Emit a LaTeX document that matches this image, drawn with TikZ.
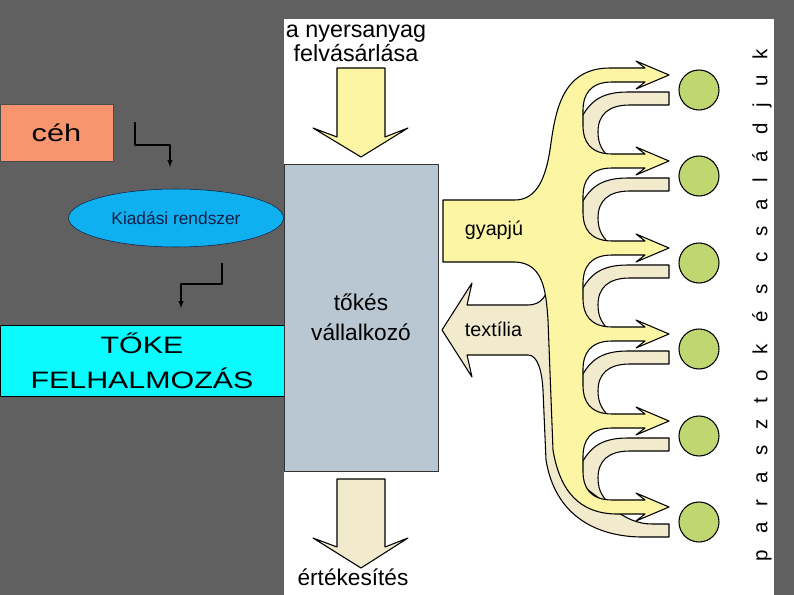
\documentclass[tikz,border=0pt]{standalone}
\usepackage{fontspec}
\setmainfont{Liberation Sans}
\newfontfamily\widesans[FakeStretch=1.28]{Liberation Sans}
\usetikzlibrary{shapes.geometric,arrows}
\definecolor{slidegray}{RGB}{96,96,96}
\definecolor{guildcol}{RGB}{247,150,110}
\definecolor{skycol}{RGB}{14,176,240}
\definecolor{navycol}{RGB}{20,30,70}
\definecolor{tokecol}{RGB}{10,250,255}
\definecolor{boxcol}{RGB}{185,199,210}
\definecolor{woolcol}{RGB}{252,246,164}
\definecolor{clothcol}{RGB}{242,234,205}
\definecolor{famcol}{RGB}{192,214,112}

\begin{document}
\begin{tikzpicture}[x=0.75pt, y=-0.75pt, line join=round,
    wool/.style={fill=woolcol, draw=black, line width=0.8pt},
    cloth/.style={fill=clothcol, draw=black, line width=0.8pt},
    family/.style={circle, draw=black, fill=famcol, line width=0.8pt, minimum size=30pt, inner sep=0pt},
    conn/.style={->, >=latex, line width=0.8pt}]
\useasboundingbox (0,0) rectangle (794,595);
\fill[slidegray] (0,0) rectangle (794,595);
\fill[white] (284,19) rectangle (774,595);

% left column
\node[draw=black!70, fill=guildcol, minimum width=84.75pt, minimum height=42.75pt, inner sep=0pt, font=\widesans\fontsize{18}{20}\selectfont] (ceh) at (56.5,132.5) {céh};
\node[ellipse, draw=navycol, fill=skycol, minimum width=161.25pt, minimum height=43.5pt, inner sep=0pt, text=navycol, font=\fontsize{13}{15}\selectfont] (kiadasi) at (176,218) {Kiadási rendszer};
\node[draw=black, fill=tokecol, minimum width=213pt, minimum height=53.25pt, inner sep=0pt, align=center, font=\widesans\fontsize{17.8}{26.25}\selectfont] (toke) at (142,360.5) {TŐKE\\FELHALMOZÁS};
\coordinate (k1) at (135,122);
\coordinate (k2) at (170,145);
\coordinate (k3) at (170,167);
\coordinate (k4) at (222,263);
\coordinate (k5) at (181,284);
\coordinate (k6) at (181,308);
\draw[conn] (k1) |- (k2) -- (k3);
\draw[conn] (k4) |- (k5) -- (k6);

% entrepreneur
\node[draw=black!80, fill=boxcol, minimum width=115.5pt, minimum height=230.25pt, inner sep=0pt, align=center, font=\fontsize{17}{22.5}\selectfont] (vallalkozo) at (361,317.5) {tőkés\\vállalkozó};
\node[align=center, inner sep=0pt, font=\fontsize{17.5}{17.5}\selectfont] (nyersanyag) at (356,43.5) {a nyersanyag\\felvásárlása};
\node[inner sep=0pt, font=\fontsize{17}{20}\selectfont] (ertekesites) at (353,577) {értékesítés};
\draw[wool] (337,68) -- (385,68) -- (385,137) -- (408,128) -- (361,157) -- (313,128) -- (337,137) -- cycle;
\draw[cloth] (337,479) -- (385,479) -- (385,547) -- (408,538) -- (361,568) -- (313,538) -- (337,547) -- cycle;

% textile flows back
\draw[cloth] (669,92) -- (628,92) .. controls (600,92) and (588,102) .. (578,125) -- (575,160) -- (612,160) .. controls (603,152) and (598,145) .. (598,132) .. controls (598,115) and (608,105) .. (630,105) -- (669,105) -- cycle;
\draw[cloth] (669,178) -- (628,178) .. controls (600,178) and (588,188) .. (578,211) -- (575,246) -- (612,246) .. controls (603,238) and (598,231) .. (598,218) .. controls (598,201) and (608,191) .. (630,191) -- (669,191) -- cycle;
\draw[cloth] (669,265) -- (628,265) .. controls (600,265) and (588,275) .. (578,298) -- (575,333) -- (612,333) .. controls (603,325) and (598,318) .. (598,305) .. controls (598,288) and (608,278) .. (630,278) -- (669,278) -- cycle;
\draw[cloth] (669,351) -- (628,351) .. controls (600,351) and (588,361) .. (578,384) -- (575,419) -- (612,419) .. controls (603,411) and (598,404) .. (598,391) .. controls (598,374) and (608,364) .. (630,364) -- (669,364) -- cycle;
\draw[cloth] (669,438) -- (628,438) .. controls (600,438) and (588,448) .. (578,471) -- (575,506) -- (612,506) .. controls (603,498) and (598,491) .. (598,478) .. controls (598,461) and (608,451) .. (630,451) -- (669,451) -- cycle;
\draw[cloth] (442,330) -- (472,283) -- (467,305) -- (528,305) .. controls (541,305) and (548,296) .. (549,280) -- (575,280) -- (575,480) -- (612,508) .. controls (625,518) and (637,524) .. (652,524) -- (669,524) -- (669,537) -- (640,537) .. controls (595,536) and (555,515) .. (546,460) -- (543,390) .. controls (542,372) and (538,355) .. (528,355) -- (467,355) -- (472,377) -- cycle;

% wool flows out
\draw[wool] (443,200) -- (515,200) .. controls (538,200) and (546,175) .. (550,150) .. controls (555,115) and (560,68) .. (610,68) -- (645,68) -- (636,61) -- (669,75) -- (636,89) -- (645,82)
  -- (612,82) .. controls (590,82) and (583,95) .. (583,110) -- (583,126) .. controls (583,141) and (590,154) .. (612,154) -- (645,154) -- (636,147) -- (669,161) -- (636,175) -- (645,168)
  -- (612,168) .. controls (590,168) and (583,181) .. (583,196) -- (583,213) .. controls (583,228) and (590,241) .. (612,241) -- (645,241) -- (636,234) -- (669,248) -- (636,262) -- (645,255)
  -- (612,255) .. controls (590,255) and (583,268) .. (583,283) -- (583,299) .. controls (583,314) and (590,327) .. (612,327) -- (645,327) -- (636,320) -- (669,334) -- (636,348) -- (645,341)
  -- (612,341) .. controls (590,341) and (583,354) .. (583,369) -- (583,386) .. controls (583,401) and (590,414) .. (612,414) -- (645,414) -- (636,407) -- (669,421) -- (636,435) -- (645,428)
  -- (612,428) .. controls (590,428) and (583,441) .. (583,456) -- (583,472) .. controls (583,487) and (590,500) .. (612,500) -- (645,500) -- (636,493) -- (669,507) -- (636,521) -- (645,514)
  -- (615,514) .. controls (580,513) and (560,492) .. (553,450) -- (548,320) .. controls (546,290) and (543,263) .. (515,262) -- (443,262) -- cycle;
\node[inner sep=0pt, font=\fontsize{14.8}{17}\selectfont] (gyapju) at (494,230) {gyapjú};
\node[inner sep=0pt, font=\fontsize{14.8}{17}\selectfont] (textilia) at (493.5,329.5) {textília};

% peasant families
\node[family] (f1) at (699,90) {};
\node[family] (f2) at (699,176) {};
\node[family] (f3) at (699,263) {};
\node[family] (f4) at (699,349) {};
\node[family] (f5) at (699,436) {};
\node[family] (f6) at (699,522) {};
\node[rotate=90, inner sep=0pt, font=\fontsize{15.4}{18}\selectfont\addfontfeature{LetterSpace=78}] (parasztok) at (762,305) {parasztok és családjuk};
\end{tikzpicture}
\end{document}
